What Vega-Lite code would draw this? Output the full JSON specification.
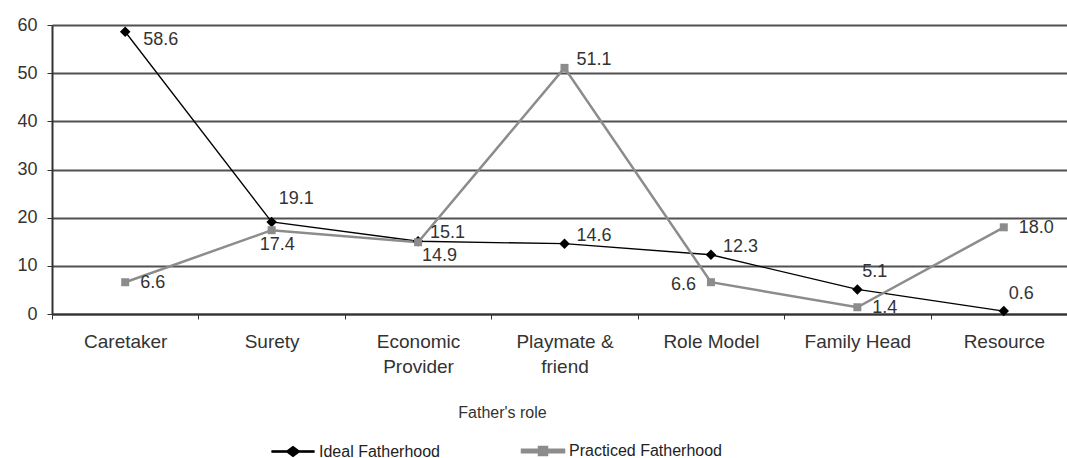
{
  "$schema": "https://vega.github.io/schema/vega-lite/v6.json",
  "width": 1025,
  "height": 289,
  "autosize": {"type": "pad"},
  "padding": {"left": 16, "top": 16, "right": 0, "bottom": 0},
  "background": "white",
  "config": {"view": {"stroke": null}, "font": "Liberation Sans"},
  "data": {
    "values": [
      {"role": "Caretaker", "series": "Ideal Fatherhood", "value": 58.6},
      {"role": "Surety", "series": "Ideal Fatherhood", "value": 19.1},
      {"role": "Economic Provider", "series": "Ideal Fatherhood", "value": 15.1},
      {"role": "Playmate & friend", "series": "Ideal Fatherhood", "value": 14.6},
      {"role": "Role Model", "series": "Ideal Fatherhood", "value": 12.3},
      {"role": "Family Head", "series": "Ideal Fatherhood", "value": 5.1},
      {"role": "Resource", "series": "Ideal Fatherhood", "value": 0.6},
      {"role": "Caretaker", "series": "Practiced Fatherhood", "value": 6.6},
      {"role": "Surety", "series": "Practiced Fatherhood", "value": 17.4},
      {"role": "Economic Provider", "series": "Practiced Fatherhood", "value": 14.9},
      {"role": "Playmate & friend", "series": "Practiced Fatherhood", "value": 51.1},
      {"role": "Role Model", "series": "Practiced Fatherhood", "value": 6.6},
      {"role": "Family Head", "series": "Practiced Fatherhood", "value": 1.4},
      {"role": "Resource", "series": "Practiced Fatherhood", "value": 18.0}
    ]
  },
  "transform": [{"calculate": "datum.series + '|' + datum.role", "as": "key"}],
  "encoding": {
    "x": {
      "field": "role",
      "type": "nominal",
      "sort": ["Caretaker", "Surety", "Economic Provider", "Playmate & friend", "Role Model", "Family Head", "Resource"],
      "scale": {"type": "band", "paddingInner": 0, "paddingOuter": 0},
      "axis": {
        "title": "Father's role",
        "titleFontSize": 16,
        "titleFontWeight": "normal",
        "titleColor": "#333",
        "titleX": 450,
        "titleY": 98,
        "titleBaseline": "middle",
        "labelAngle": 0,
        "labelFontSize": 19,
        "labelColor": "#333",
        "labelPadding": 13,
        "labelLineHeight": 25,
        "labelBaseline": "top",
        "labelExpr": "datum.value == 'Economic Provider' ? ['Economic', 'Provider'] : datum.value == 'Playmate & friend' ? ['Playmate &', 'friend'] : datum.value",
        "tickBand": "extent",
        "tickSize": 5,
        "tickColor": "#333",
        "domainColor": "#333",
        "domainWidth": 2,
        "grid": false
      }
    },
    "y": {
      "field": "value",
      "type": "quantitative",
      "scale": {"domain": [0, 60], "nice": false},
      "axis": {
        "title": null,
        "values": [0, 10, 20, 30, 40, 50, 60],
        "labelFontSize": 18,
        "labelColor": "#333",
        "labelPadding": 10,
        "tickSize": 5,
        "tickColor": "#333",
        "domainColor": "#333",
        "domainWidth": 2,
        "grid": true,
        "gridColor": "#505050",
        "gridWidth": 2
      }
    }
  },
  "layer": [
    {
      "mark": {"type": "line"},
      "encoding": {
        "color": {
          "field": "series",
          "type": "nominal",
          "scale": {"domain": ["Ideal Fatherhood", "Practiced Fatherhood"], "range": ["#000000", "#8c8c8c"]},
          "legend": {
            "title": null,
            "orient": "none",
            "direction": "horizontal",
            "legendX": 233,
            "legendY": 418,
            "padding": 0,
            "labelFontSize": 16,
            "labelColor": "#222",
            "labelOffset": 18,
            "columnPadding": 77,
            "symbolSize": 100,
            "symbolType": "M-4.2,-0.14H-1.14L0,-1L1.14,-0.14H4.2V0.14H1.14L0,1L-1.14,0.14H-4.2Z",
            "encode": {
              "symbols": {
                "update": {
                  "shape": {"signal": "datum.value == 'Ideal Fatherhood' ? 'M-4.2,-0.14H-1.14L0,-1L1.14,-0.14H4.2V0.14H1.14L0,1L-1.14,0.14H-4.2Z' : 'M-4.2,-0.25H-0.8V-0.8H0.8V-0.25H4.2V0.25H0.8V0.8H-0.8V0.25H-4.2Z'"},
                  "fill": {"signal": "datum.value == 'Ideal Fatherhood' ? '#000000' : '#8c8c8c'"},
                  "fillOpacity": {"value": 1},
                  "stroke": {"value": "transparent"},
                  "strokeWidth": {"value": 0},
                  "opacity": {"value": 1}
                }
              }
            }
          }
        },
        "strokeWidth": {
          "field": "series",
          "type": "nominal",
          "scale": {"domain": ["Ideal Fatherhood", "Practiced Fatherhood"], "range": [1.3, 2.5]},
          "legend": null
        }
      }
    },
    {
      "transform": [{"filter": "datum.series == 'Ideal Fatherhood'"}],
      "mark": {"type": "point", "filled": true, "opacity": 1, "shape": "diamond", "size": 110, "color": "#000000"},
      "encoding": {}
    },
    {
      "transform": [{"filter": "datum.series == 'Practiced Fatherhood'"}],
      "mark": {"type": "point", "filled": true, "opacity": 1, "shape": "square", "size": 64, "color": "#8c8c8c"},
      "encoding": {}
    },
    {
      "transform": [{"filter": "indexof(['Ideal Fatherhood|Caretaker'], datum.key) >= 0"}],
      "mark": {"type": "text", "align": "left", "dx": 18, "dy": 8, "fontSize": 18, "color": "#333"},
      "encoding": {"text": {"field": "value", "type": "quantitative", "format": ".1f"}}
    },
    {
      "transform": [{"filter": "indexof(['Ideal Fatherhood|Surety'], datum.key) >= 0"}],
      "mark": {"type": "text", "align": "left", "dx": 7, "dy": -23, "fontSize": 18, "color": "#333"},
      "encoding": {"text": {"field": "value", "type": "quantitative", "format": ".1f"}}
    },
    {
      "transform": [{"filter": "indexof(['Ideal Fatherhood|Economic Provider', 'Ideal Fatherhood|Playmate & friend', 'Ideal Fatherhood|Role Model', 'Practiced Fatherhood|Playmate & friend'], datum.key) >= 0"}],
      "mark": {"type": "text", "align": "left", "dx": 12, "dy": -8, "fontSize": 18, "color": "#333"},
      "encoding": {"text": {"field": "value", "type": "quantitative", "format": ".1f"}}
    },
    {
      "transform": [{"filter": "indexof(['Ideal Fatherhood|Family Head', 'Ideal Fatherhood|Resource'], datum.key) >= 0"}],
      "mark": {"type": "text", "align": "left", "dx": 5, "dy": -17, "fontSize": 18, "color": "#333"},
      "encoding": {"text": {"field": "value", "type": "quantitative", "format": ".1f"}}
    },
    {
      "transform": [{"filter": "indexof(['Practiced Fatherhood|Caretaker', 'Practiced Fatherhood|Family Head', 'Practiced Fatherhood|Resource'], datum.key) >= 0"}],
      "mark": {"type": "text", "align": "left", "dx": 15, "dy": 1, "fontSize": 18, "color": "#333"},
      "encoding": {"text": {"field": "value", "type": "quantitative", "format": ".1f"}}
    },
    {
      "transform": [{"filter": "indexof(['Practiced Fatherhood|Surety'], datum.key) >= 0"}],
      "mark": {"type": "text", "align": "left", "dx": -12, "dy": 15, "fontSize": 18, "color": "#333"},
      "encoding": {"text": {"field": "value", "type": "quantitative", "format": ".1f"}}
    },
    {
      "transform": [{"filter": "indexof(['Practiced Fatherhood|Economic Provider'], datum.key) >= 0"}],
      "mark": {"type": "text", "align": "left", "dx": 4, "dy": 14, "fontSize": 18, "color": "#333"},
      "encoding": {"text": {"field": "value", "type": "quantitative", "format": ".1f"}}
    },
    {
      "transform": [{"filter": "indexof(['Practiced Fatherhood|Role Model'], datum.key) >= 0"}],
      "mark": {"type": "text", "align": "right", "dx": -15, "dy": 3, "fontSize": 18, "color": "#333"},
      "encoding": {"text": {"field": "value", "type": "quantitative", "format": ".1f"}}
    }
  ]
}
